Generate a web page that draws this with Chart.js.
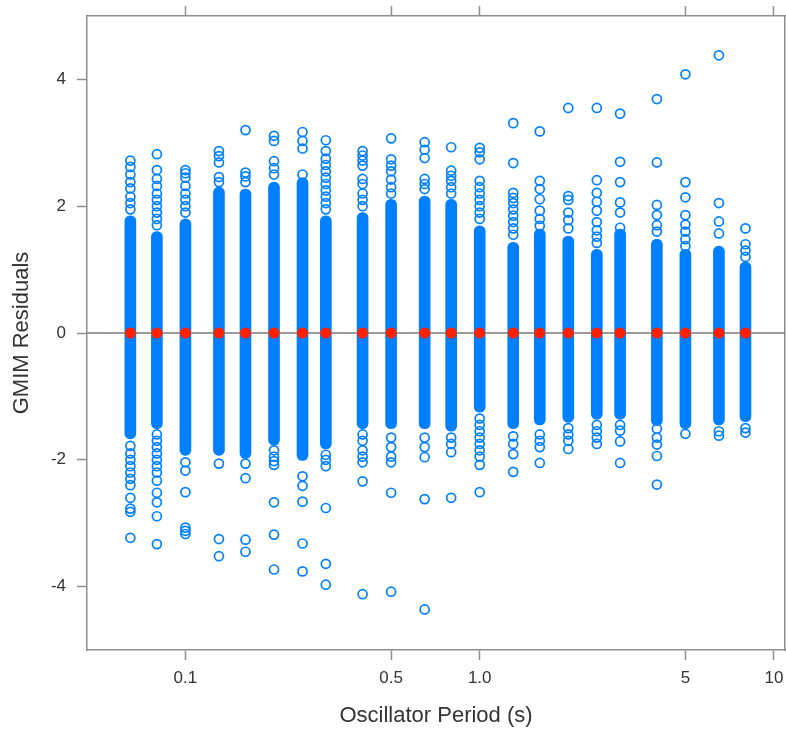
<!DOCTYPE html>
<html>
<head>
<meta charset="utf-8">
<script src="https://cdn.jsdelivr.net/npm/chart.js@4.4.1/dist/chart.umd.min.js"></script>
<style>
  html, body { margin: 0; padding: 0; background: #fff; }
</style>
</head>
<body>
<canvas id="chart" width="786" height="730"></canvas>
<script>
// oscillator periods (s), one column of residuals each
const periods = [0.065, 0.08, 0.1, 0.13, 0.16, 0.2, 0.25, 0.3, 0.4, 0.5, 0.65, 0.8,
  1.0, 1.3, 1.6, 2.0, 2.5, 3.0, 4.0, 5.0, 6.5, 8.0];

// dense part of every column, where the circles merge into a solid band
const bandLow = [-1.67, -1.51, -1.93, -1.93, -1.98, -1.77, -2.01, -1.83, -1.51, -1.51, -1.51,
  -1.55, -1.25, -1.51, -1.45, -1.41, -1.36, -1.36, -1.46, -1.51, -1.45, -1.40];
const bandHigh = [1.85, 1.60, 1.80, 2.30, 2.27, 2.38, 2.45, 1.85, 1.90, 2.11, 2.16,
  2.11, 1.69, 1.43, 1.64, 1.53, 1.32, 1.64, 1.48, 1.32, 1.37, 1.12];

// single residuals still visible above / below the band
const tailResiduals = [
  [1.95, 2.05, 2.15, 2.28, 2.38, 2.5, 2.62, 2.72, -1.78, -1.9, -2.0, -2.1, -2.2, -2.3, -2.4, -2.6, -2.77, -2.82, -3.23],
  [1.7, 1.8, 1.9, 2.0, 2.1, 2.2, 2.32, 2.43, 2.57, 2.82, -1.6, -1.7, -1.8, -1.9, -2.0, -2.1, -2.2, -2.33, -2.52, -2.67, -2.89, -3.33],
  [1.9, 2.0, 2.1, 2.2, 2.32, 2.45, 2.52, 2.57, -2.04, -2.17, -2.51, -3.07, -3.12, -3.17],
  [2.38, 2.46, 2.69, 2.79, 2.87, -2.06, -3.25, -3.52],
  [2.38, 2.47, 2.53, 3.2, -2.06, -2.29, -3.26, -3.45],
  [2.5, 2.6, 2.71, 3.03, 3.11, -1.85, -1.95, -2.02, -2.08, -2.67, -3.18, -3.73],
  [2.5, 2.91, 3.03, 3.17, -2.26, -2.41, -2.66, -3.32, -3.76],
  [1.95, 2.05, 2.15, 2.25, 2.35, 2.45, 2.55, 2.65, 2.75, 2.87, 3.04, -1.92, -2.0, -2.1, -2.76, -3.64, -3.97],
  [2.0, 2.1, 2.2, 2.35, 2.43, 2.64, 2.72, 2.8, 2.87, -1.6, -1.7, -1.85, -1.95, -2.04, -2.34, -4.12],
  [2.2, 2.3, 2.42, 2.55, 2.64, 2.74, 3.07, -1.65, -1.8, -1.95, -2.04, -2.52, -4.08],
  [2.27, 2.35, 2.43, 2.76, 2.89, 3.01, -1.65, -1.8, -1.96, -2.62, -4.36],
  [2.2, 2.3, 2.4, 2.48, 2.56, 2.93, -1.65, -1.75, -1.88, -2.6],
  [1.8, 1.9, 2.0, 2.1, 2.2, 2.3, 2.4, 2.74, 2.85, 2.92, -1.35, -1.45, -1.55, -1.65, -1.75, -1.85, -1.95, -2.08, -2.51],
  [1.55, 1.65, 1.75, 1.85, 1.95, 2.05, 2.13, 2.21, 2.68, 3.31, -1.63, -1.75, -1.91, -2.19],
  [1.69, 1.8, 1.93, 2.11, 2.27, 2.4, 3.18, -1.6, -1.7, -1.8, -2.05],
  [1.65, 1.78, 1.9, 2.1, 2.16, 3.55, -1.5, -1.6, -1.7, -1.83],
  [1.42, 1.52, 1.62, 1.75, 1.93, 2.07, 2.21, 2.41, 3.55, -1.45, -1.55, -1.65, -1.75],
  [1.66, 1.9, 2.06, 2.38, 2.7, 3.46, -1.45, -1.54, -1.71, -2.05],
  [1.6, 1.7, 1.86, 2.02, 2.69, 3.69, -1.51, -1.65, -1.76, -1.94, -2.39],
  [1.37, 1.48, 1.6, 1.71, 1.86, 2.14, 2.38, 4.08, -1.59],
  [1.57, 1.76, 2.05, 4.38, -1.55, -1.62],
  [1.2, 1.3, 1.4, 1.65, -1.5, -1.57]
];

// mean residual per period (red dots)
const meanResidual = [0, 0, 0, 0, 0, 0, 0, 0, 0, 0, 0, 0, 0, 0, 0, 0, 0, 0, 0, 0, 0, 0];

const xMin = 0.0463;
const xMax = 10.9;
const xTickValues = [0.1, 0.5, 1, 5, 10];
const xTickLabels = ["0.1", "0.5", "1.0", "5", "10"];
const yTickValues = [-4, -2, 0, 2, 4];
const yTickLabels = ["-4", "-2", "0", "2", "4"];

const blue = "#0080ff";
const frameColor = "#8e8e8e";
const textColor = "#333333";
const fontFamily = "'Liberation Sans', Arial, sans-serif";

const bandData = periods.map((p, i) => ({ x: p, y: [bandLow[i], bandHigh[i]] }));
const tailData = [];
periods.forEach((p, i) => {
  tailResiduals[i].forEach((r) => tailData.push({ x: p, y: r }));
});
const meanData = periods.map((p, i) => ({ x: p, y: meanResidual[i] }));

const fixedTicks = (values) => (scale) => {
  scale.ticks = values.map((v) => ({ value: v }));
};

// fixed box size for an axis, and no extra room for labels near the ends
const fitBox = (key, size) => (s) => {
  s[key] = size;
  s.paddingLeft = 0;
  s.paddingRight = 0;
  s.paddingTop = 0;
  s.paddingBottom = 0;
};

const gridOpts = {
  drawOnChartArea: false,
  offset: false,
  tickLength: 10,
  tickWidth: 1.5,
  color: frameColor,
};
const borderOpts = { color: frameColor, width: 1.5 };

new Chart(document.getElementById("chart"), {
  type: "scatter",
  data: {
    datasets: [
      {
        type: "bar",
        data: bandData,
        backgroundColor: blue,
        borderWidth: 0,
        barThickness: 11,
        borderRadius: 5.5,
        borderSkipped: false,
        order: 3,
      },
      {
        type: "scatter",
        data: tailData,
        pointRadius: 4.5,
        pointBorderWidth: 1.7,
        pointBorderColor: blue,
        pointBackgroundColor: "rgba(0,0,0,0)",
        order: 2,
      },
      {
        type: "line",
        data: [{ x: xMin, y: 0 }, { x: xMax, y: 0 }],
        borderColor: "#7a7a7a",
        borderWidth: 1.6,
        pointRadius: 0,
        order: 1,
      },
      {
        type: "scatter",
        data: meanData,
        pointRadius: 5.5,
        pointBorderWidth: 0,
        pointBackgroundColor: "#ff2000",
        order: 0,
      },
    ],
  },
  options: {
    responsive: false,
    animation: false,
    layout: { padding: 0, autoPadding: false },
    plugins: { legend: { display: false }, tooltip: { enabled: false } },
    scales: {
      x: {
        type: "logarithmic",
        position: "bottom",
        min: xMin,
        max: xMax,
        offset: false,
        grid: gridOpts,
        border: borderOpts,
        afterBuildTicks: fixedTicks(xTickValues),
        ticks: {
          autoSkip: false,
          maxRotation: 0,
          padding: 8,
          color: textColor,
          font: { family: fontFamily, size: 17 },
          callback: (v) => xTickLabels[xTickValues.indexOf(v)],
        },
        title: {
          display: true,
          text: "Oscillator Period (s)",
          color: textColor,
          font: { family: fontFamily, size: 22 },
          padding: { top: 0, bottom: 1 },
        },
        afterFit: fitBox("height", 80),
      },
      xTop: {
        type: "logarithmic",
        position: "top",
        min: xMin,
        max: xMax,
        offset: false,
        grid: gridOpts,
        border: borderOpts,
        afterBuildTicks: fixedTicks(xTickValues),
        ticks: { display: false },
        afterFit: fitBox("height", 16),
      },
      y: {
        type: "linear",
        position: "left",
        min: -5,
        max: 5,
        grid: gridOpts,
        border: borderOpts,
        afterBuildTicks: fixedTicks(yTickValues),
        ticks: {
          padding: 11,
          color: textColor,
          font: { family: fontFamily, size: 17 },
          callback: (v) => yTickLabels[yTickValues.indexOf(v)],
        },
        title: {
          display: true,
          text: "GMIM Residuals",
          color: textColor,
          font: { family: fontFamily, size: 22 },
          padding: { top: 9, bottom: 0 },
        },
        afterFit: fitBox("width", 87),
      },
      yRight: {
        type: "linear",
        position: "right",
        min: -5,
        max: 5,
        grid: { drawOnChartArea: false, drawTicks: false },
        border: borderOpts,
        ticks: { display: false },
        afterFit: fitBox("width", 1),
      },
    },
  },
});
</script>
</body>
</html>
